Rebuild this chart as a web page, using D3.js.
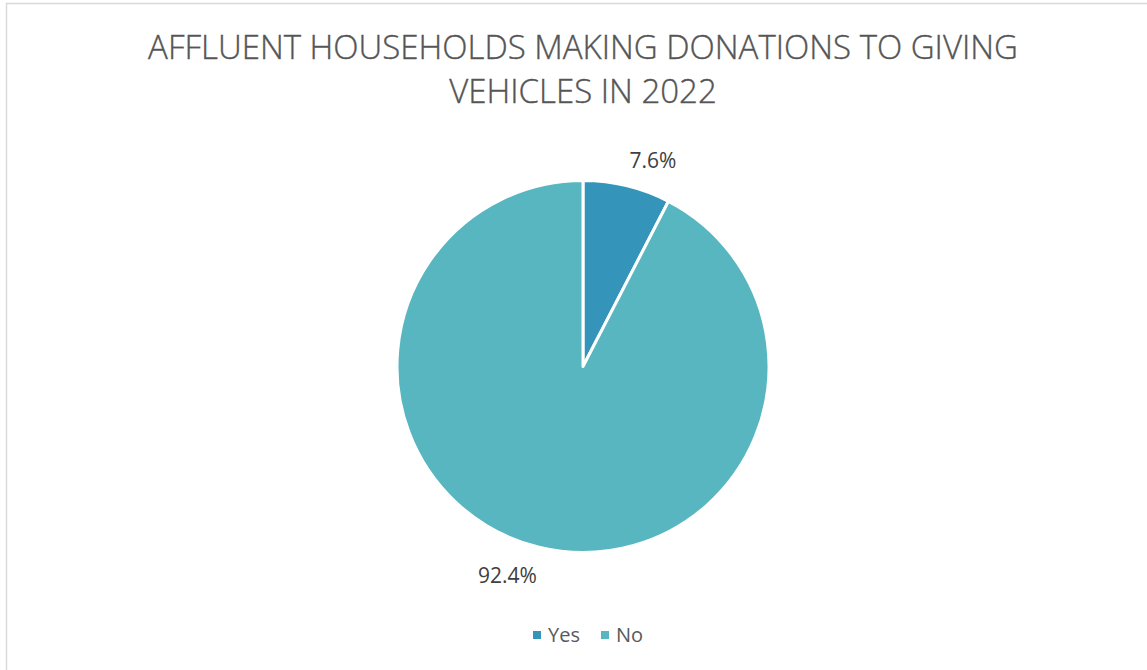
<!DOCTYPE html>
<html><head><meta charset="utf-8">
<script src="https://cdn.jsdelivr.net/npm/d3@7"></script>
<style>body{margin:0;background:#fff;}svg{display:block;}</style>
</head><body>
<svg id="c" width="1147" height="670"></svg>
<script>
const categories = ["Yes", "No"];
const values = [7.6, 92.4];
const labels = ["7.6%", "92.4%"];
const colors = ["#3494BA", "#58B6C0"];
const titleLines = ["AFFLUENT HOUSEHOLDS MAKING DONATIONS TO GIVING", "VEHICLES IN 2022"];

const svg = d3.select("#c");
const font = "'Open Sans', 'Noto Sans', sans-serif";
svg.append("rect").attr("x",6.5).attr("y",3.5).attr("width",1150).attr("height",700)
  .attr("fill","#fff").attr("stroke","#d9d9d9").attr("stroke-width",1.5);

svg.append("g").selectAll("text").data(titleLines).join("text")
  .attr("x",583).attr("y",(d,i)=>59+i*44).attr("text-anchor","middle")
  .attr("font-family",font).attr("font-size",33).attr("fill","#555555")
  .attr("font-weight",300).attr("stroke","#555555").attr("stroke-width",0.35)
  .text(d=>d);

const cx=583, cy=366.5, r=186;
const pie = d3.pie().sort(null).value(d=>d)(values);
const arc = d3.arc().innerRadius(0).outerRadius(r);
const g = svg.append("g").attr("transform",`translate(${cx},${cy})`);
g.selectAll("path").data(pie).join("path").attr("d",arc)
  .attr("fill",(d,i)=>colors[i]).attr("stroke","#fff").attr("stroke-width",3).attr("stroke-linejoin","round");

const labelPos = [[653,168],[507.5,583]];
svg.append("g").selectAll("text").data(labels).join("text")
  .attr("x",(d,i)=>labelPos[i][0]).attr("y",(d,i)=>labelPos[i][1])
  .attr("text-anchor","middle").attr("font-family",font).attr("font-size",21)
  .attr("fill","#404040").text(d=>d);

const legX = [533, 601];
const lg = svg.append("g").selectAll("g").data(categories).join("g")
  .attr("transform",(d,i)=>`translate(${legX[i]},631)`);
lg.append("rect").attr("width",8).attr("height",8).attr("fill",(d,i)=>colors[i]);
lg.append("text").attr("x",15).attr("y",11).attr("font-family",font).attr("font-size",20)
  .attr("fill","#595959").text(d=>d);
</script>
</body></html>
